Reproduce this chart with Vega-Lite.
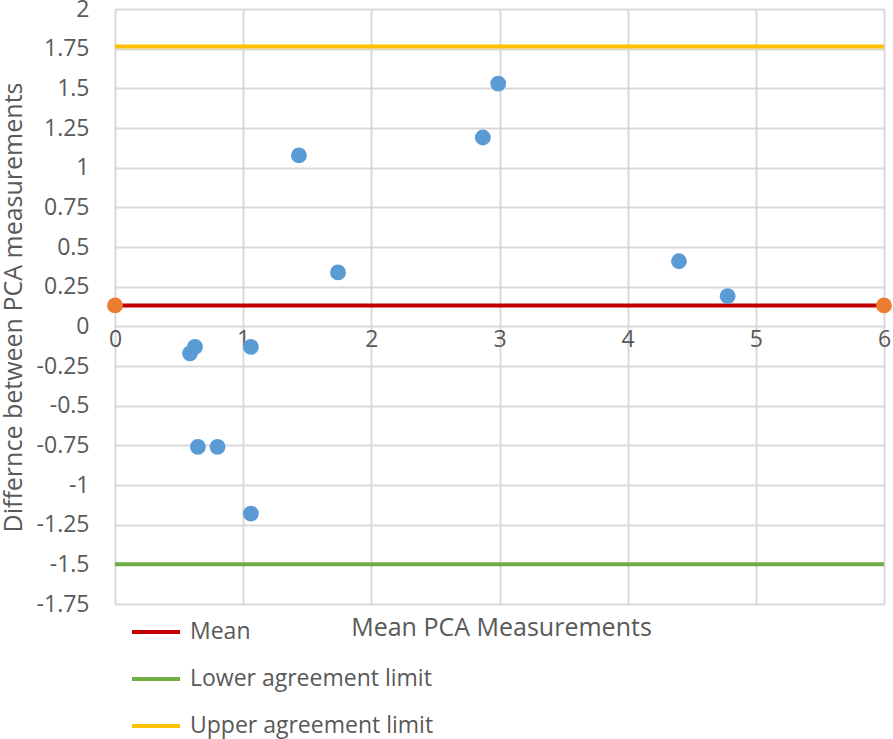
{
  "$schema": "https://vega.github.io/schema/vega-lite/v6.json",
  "width": 769,
  "height": 595,
  "autosize": {"type": "none"},
  "padding": {"left": 115, "top": 9, "right": 9, "bottom": 135},
  "background": "white",
  "config": {
    "font": "Open Sans",
    "view": {"stroke": null},
    "axis": {"gridColor": "#d9d9d9", "gridWidth": 2, "labelColor": "#595959", "titleColor": "#595959", "labelFontSize": 23, "titleFontSize": 25, "titleFontWeight": "normal", "domain": false, "ticks": false, "labelOverlap": false}
  },
  "datasets": {
    "lines": [
      {"series": "Mean", "x": 0, "y": 0.132},
      {"series": "Mean", "x": 6, "y": 0.132},
      {"series": "Lower agreement limit", "x": 0, "y": -1.5},
      {"series": "Lower agreement limit", "x": 6, "y": -1.5},
      {"series": "Upper agreement limit", "x": 0, "y": 1.764},
      {"series": "Upper agreement limit", "x": 6, "y": 1.764}
    ],
    "ends": [
      {"x": 0, "y": 0.132},
      {"x": 6, "y": 0.132}
    ],
    "points": [
      {"x": 1.435, "y": 1.077},
      {"x": 1.74, "y": 0.34},
      {"x": 2.87, "y": 1.19},
      {"x": 2.99, "y": 1.53},
      {"x": 4.40, "y": 0.41},
      {"x": 4.78, "y": 0.19},
      {"x": 0.585, "y": -0.17},
      {"x": 0.624, "y": -0.13},
      {"x": 1.06, "y": -0.13},
      {"x": 0.647, "y": -0.76},
      {"x": 0.80, "y": -0.76},
      {"x": 1.06, "y": -1.18}
    ]
  },
  "encoding": {
    "x": {
      "field": "x", "type": "quantitative",
      "scale": {"domain": [0, 6], "nice": false},
      "axis": {"values": [0, 1, 2, 3, 4, 5, 6], "tickCount": 20, "format": "d", "offset": -278, "labelPadding": 2, "labelFlush": false, "title": "Mean PCA Measurements", "titleX": 386, "titleY": 301, "titleBaseline": "middle", "titleAlign": "center"}
    },
    "y": {
      "field": "y", "type": "quantitative",
      "scale": {"domain": [-1.75, 2], "nice": false},
      "axis": {"values": [-1.75, -1.5, -1.25, -1, -0.75, -0.5, -0.25, 0, 0.25, 0.5, 0.75, 1, 1.25, 1.5, 1.75, 2], "tickCount": 40, "labelExpr": "replace(format(datum.value, '.2~f'), '\u2212', '-')", "labelPadding": 26, "labelFlush": false, "labelOverlap": false, "title": "Differnce between PCA measurements", "titleX": -102, "titleY": 298, "titleAngle": 270, "titleBaseline": "middle", "titleAlign": "center"}
    }
  },
  "layer": [
    {
      "data": {"name": "lines"},
      "mark": {"type": "line", "strokeWidth": 4},
      "encoding": {
        "color": {
          "field": "series", "type": "nominal",
          "scale": {"domain": ["Mean", "Lower agreement limit", "Upper agreement limit"], "range": ["#c00000", "#70ad47", "#ffc000"]},
          "legend": {"orient": "none", "legendX": 15, "legendY": 597, "title": null, "symbolType": "stroke", "symbolSize": 2304, "symbolStrokeWidth": 4, "labelFontSize": 23, "labelColor": "#595959", "labelOffset": 8, "labelLimit": 400, "rowPadding": 9}
        }
      }
    },
    {
      "data": {"name": "ends"},
      "mark": {"type": "point", "filled": true, "size": 250, "opacity": 1, "color": "#ed7d31"}
    },
    {
      "data": {"name": "points"},
      "mark": {"type": "point", "filled": true, "size": 250, "opacity": 1, "color": "#5b9bd5"}
    }
  ]
}
